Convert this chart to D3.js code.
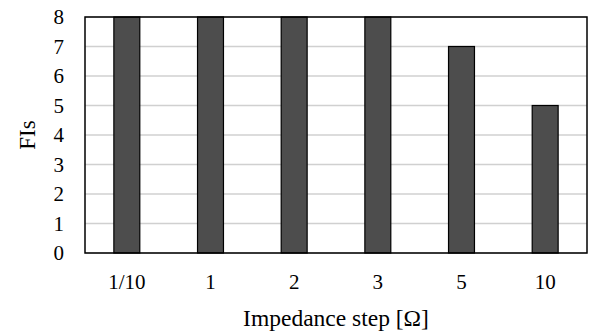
<!DOCTYPE html>
<html>
<head>
<meta charset="utf-8">
<script src="https://cdnjs.cloudflare.com/ajax/libs/d3/7.8.5/d3.min.js"></script>
<style>
  body { margin: 0; background: #fff; }
  text { font-family: "Liberation Serif", "Times New Roman", serif; fill: #000; }
</style>
</head>
<body>
<svg width="590" height="333"></svg>
<script>
var categories = ["1/10", "1", "2", "3", "5", "10"];
var fis = [8, 8, 8, 8, 7, 5];
var yTicks = [0, 1, 2, 3, 4, 5, 6, 7, 8];

var margin = {top: 17, right: 3, bottom: 80, left: 85};
var width = 590, height = 333;

var svg = d3.select("svg");

var x = d3.scaleBand()
    .domain(categories)
    .range([margin.left, width - margin.right])
    .paddingInner(0.69)
    .paddingOuter(0.345);

var y = d3.scaleLinear()
    .domain([0, 8])
    .range([height - margin.bottom, margin.top]);

// grid
svg.append("g")
    .selectAll("line")
    .data(yTicks)
    .enter().append("line")
    .attr("x1", margin.left)
    .attr("x2", width - margin.right)
    .attr("y1", function (d) { return y(d); })
    .attr("y2", function (d) { return y(d); })
    .attr("stroke", "#d0d0d0")
    .attr("stroke-width", 1.5);

// bars
svg.append("g")
    .selectAll("rect")
    .data(fis)
    .enter().append("rect")
    .attr("x", function (d, i) { return x(categories[i]); })
    .attr("y", function (d) { return y(d); })
    .attr("width", x.bandwidth())
    .attr("height", function (d) { return y(0) - y(d); })
    .attr("fill", "#4d4d4d")
    .attr("stroke", "#000")
    .attr("stroke-width", 1.2);

// plot border
svg.append("rect")
    .attr("x", margin.left)
    .attr("y", margin.top)
    .attr("width", width - margin.left - margin.right)
    .attr("height", height - margin.top - margin.bottom)
    .attr("fill", "none")
    .attr("stroke", "#000")
    .attr("stroke-width", 1.5);

// y axis
var yAxis = svg.append("g")
    .attr("transform", "translate(" + margin.left + ",0)")
    .call(d3.axisLeft(y).tickValues(yTicks).tickSize(0).tickPadding(21));
yAxis.select(".domain").remove();
yAxis.selectAll("text").style("font-size", "21px").style("font-family", "Liberation Serif, serif");

// x axis
var xAxis = svg.append("g")
    .attr("transform", "translate(0," + (height - margin.bottom) + ")")
    .call(d3.axisBottom(x).tickSize(0).tickPadding(21));
xAxis.select(".domain").remove();
xAxis.selectAll("text").style("font-size", "21px").style("font-family", "Liberation Serif, serif");

// axis titles
svg.append("text")
    .attr("x", (margin.left + width - margin.right) / 2)
    .attr("y", 326)
    .attr("text-anchor", "middle")
    .style("font-size", "23.5px")
    .text("Impedance step [Ω]");

svg.append("text")
    .attr("transform", "translate(35," + ((margin.top + height - margin.bottom) / 2) + ") rotate(-90)")
    .attr("text-anchor", "middle")
    .style("font-size", "23px")
    .text("FIs");
</script>
</body>
</html>
